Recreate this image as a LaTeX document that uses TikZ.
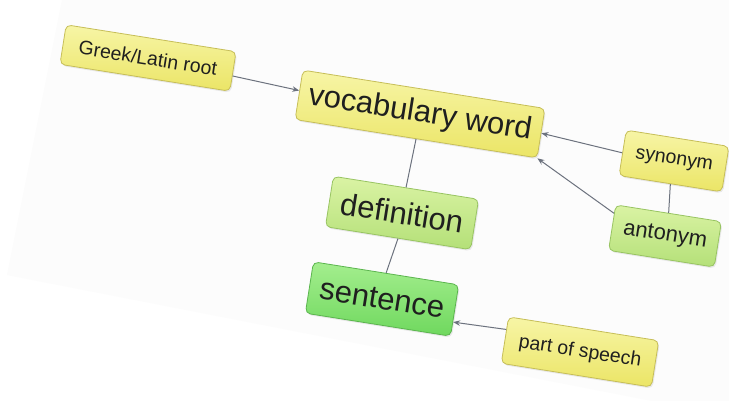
\documentclass[tikz,border=0pt]{standalone}
\usepackage{fontspec}
\setmainfont{Liberation Sans}
\usetikzlibrary{arrows.meta,shadows}

\definecolor{ylwtop}{HTML}{F7F5A6}
\definecolor{ylwbot}{HTML}{EBE566}
\definecolor{ylwline}{HTML}{C6BE58}
\definecolor{grntop}{HTML}{DAF3A4}
\definecolor{grnbot}{HTML}{B4E078}
\definecolor{grnline}{HTML}{98C462}
\definecolor{deeptop}{HTML}{A4EE8E}
\definecolor{deepbot}{HTML}{6FD85E}
\definecolor{deepline}{HTML}{5BB54E}
\definecolor{linkgray}{HTML}{6C727E}
\definecolor{pagetint}{HTML}{FCFCFC}

\tikzset{
  concept/.style={rounded corners=5pt, rotate=-9, inner sep=0pt,
    line width=0.8pt, text=black!88,
    drop shadow={opacity=0.16, shadow xshift=1.2pt, shadow yshift=-1.6pt}},
  yellowbox/.style={concept, draw=ylwline, top color=ylwtop, bottom color=ylwbot},
  greenbox/.style={concept, draw=grnline, top color=grntop, bottom color=grnbot},
  deepbox/.style={concept, draw=deepline, top color=deeptop, bottom color=deepbot},
  smalltext/.style={font=\fontsize{19.5}{22}\selectfont},
  midtext/.style={font=\fontsize{22}{26}\selectfont},
  largetext/.style={font=\fontsize{31}{36}\selectfont},
  link/.style={draw=linkgray, line width=1pt},
  pointer/.style={link, -{Stealth[length=7pt,width=5.5pt]}},
}

\begin{document}
\begin{tikzpicture}[x=1pt,y=-1pt]
  \useasboundingbox (0,0) rectangle (729,401);
  \clip (0,0) rectangle (729,401);
  \fill[white] (0,0) rectangle (729,401);
  % faint sheet behind the map
  \fill[pagetint] (62,0) -- (7,275) -- (729,416) -- (729,0) -- cycle;

  % concepts
  \node[yellowbox, smalltext, minimum width=172pt, minimum height=40pt] (root) at (148,58) {Greek/Latin root};
  \node[yellowbox, largetext, minimum width=245pt, minimum height=50pt] (word) at (420,114) {vocabulary word};
  \node[yellowbox, smalltext, minimum width=104pt, minimum height=46pt] (syn) at (674,161) {synonym};
  \node[greenbox, midtext, minimum width=107pt, minimum height=46pt] (ant) at (665,236) {antonym};
  \node[greenbox, largetext, minimum width=147pt, minimum height=51pt] (def) at (402,213) {definition};
  \node[deepbox, largetext, minimum width=147pt, minimum height=52pt] (sent) at (382,299) {sentence};
  \node[yellowbox, smalltext, minimum width=152pt, minimum height=47pt] (pos) at (580,352) {part of speech};

  % plain links
  \draw[link] (word.south) -- (def.north);
  \draw[link] (def.south) -- (sent.north);
  \draw[link] (syn.south) -- (ant.north);

  % directed links
  \draw[pointer] (root.-3) -- (word.178);
  \draw[pointer] (syn.west) -- (word.east);
  \draw[pointer] (ant.165) -- (word.south east);
  \draw[pointer] (pos.172) -- (sent.-9);
\end{tikzpicture}
\end{document}
